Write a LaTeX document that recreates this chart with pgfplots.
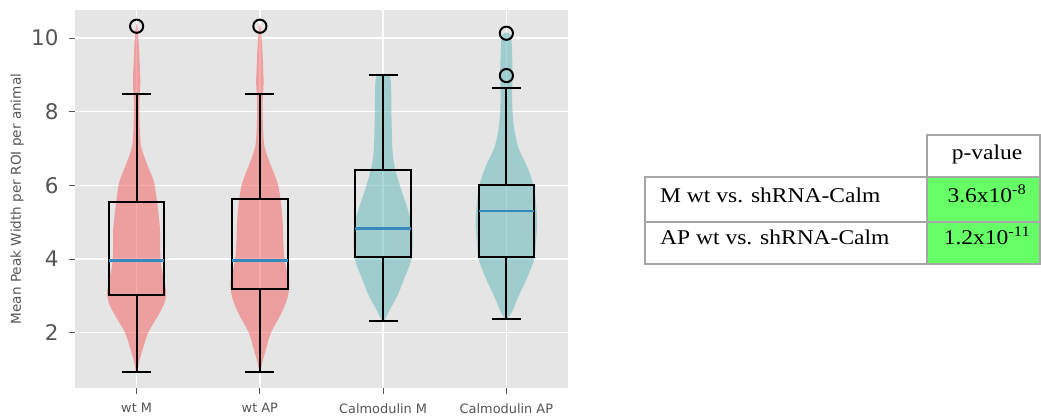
\documentclass[border=0pt]{standalone}
\usepackage{pgfplots}
\pgfplotsset{compat=1.18}
\usepgfplotslibrary{statistics}
\usepackage{fontspec}
\setmainfont{DejaVu Sans}
\newfontfamily\tabfont[FakeStretch=1.12]{Liberation Serif}
\definecolor{bggray}{HTML}{E5E5E5}
\definecolor{pinkv}{RGB}{245,91,91}
\definecolor{tealv}{RGB}{91,181,181}
\definecolor{medblue}{HTML}{348ABD}
\definecolor{labgray}{HTML}{555555}
\definecolor{tabborder}{HTML}{A6A6A6}
\definecolor{tabgreen}{HTML}{66FF66}
\begin{document}
\begin{tikzpicture}[x=1pt,y=1pt]
\path[use as bounding box] (0,0) rectangle (1041,416);
\begin{axis}[
  at={(75pt,28pt)}, anchor=south west,
  scale only axis, width=493pt, height=378pt,
  xmin=0.5, xmax=4.5, ymin=0.5, ymax=10.76,
  axis background/.style={fill=bggray},
  axis line style={draw=none},
  grid=major, grid style={white, line width=1.4pt},
  xtick={1,2,3,4},
  xticklabels={wt M, wt AP, Calmodulin M, Calmodulin AP},
  ytick={2,4,6,8,10},
  xtick pos=lower, ytick pos=left,
  tick align=outside, major tick length=6pt,
  tick style={labgray, line width=0.9pt},
  /pgf/number format/assume math mode=true,
  yticklabel style={font=\fontsize{21.5}{21.5}\selectfont, text=labgray, xshift=-7pt},
  xticklabel style={font=\fontsize{12.9}{12.9}\selectfont, text=labgray, yshift=-6pt},
  ylabel={Mean Peak Width per ROI per animal},
  every axis y label/.style={at={(axis description cs:-0.1176,0.5)}, rotate=90, anchor=center,
    font=\fontsize{13.6}{13.6}\selectfont, text=labgray},
  clip=false,
]
% violins
\addplot[fill=pinkv, fill opacity=0.5, draw=none, smooth] coordinates {
(1.005,0.93) (1.02,1.2) (1.045,1.5) (1.094,2.0) (1.18,2.5) (1.225,2.8) (1.24,3.1) (1.225,3.4) (1.2,3.8) (1.19,4.3) (1.19,4.8) (1.175,5.3) (1.16,5.7) (1.14,6.1) (1.094,6.5) (1.06,6.8) (1.035,7.1) (1.025,7.6) (1.022,8.2) (1.03,8.8) (1.025,9.3) (1.018,9.8) (1.005,10.32)
(0.995,10.32) (0.982,9.8) (0.975,9.3) (0.97,8.8) (0.978,8.2) (0.975,7.6) (0.965,7.1) (0.94,6.8) (0.906,6.5) (0.86,6.1) (0.84,5.7) (0.825,5.3) (0.81,4.8) (0.81,4.3) (0.8,3.8) (0.775,3.4) (0.76,3.1) (0.775,2.8) (0.82,2.5) (0.906,2.0) (0.955,1.5) (0.98,1.2) (0.995,0.93)
};
\addplot[fill=pinkv, fill opacity=0.5, draw=none, smooth] coordinates {
(2.005,0.93) (2.02,1.2) (2.045,1.5) (2.09,2.0) (2.17,2.5) (2.22,2.9) (2.24,3.3) (2.225,3.6) (2.2,4.0) (2.19,4.5) (2.185,5.0) (2.175,5.4) (2.16,5.8) (2.14,6.1) (2.094,6.5) (2.06,6.8) (2.035,7.1) (2.025,7.6) (2.022,8.2) (2.03,8.8) (2.025,9.3) (2.018,9.8) (2.005,10.32)
(1.995,10.32) (1.982,9.8) (1.975,9.3) (1.97,8.8) (1.978,8.2) (1.975,7.6) (1.965,7.1) (1.94,6.8) (1.906,6.5) (1.86,6.1) (1.84,5.8) (1.825,5.4) (1.815,5.0) (1.81,4.5) (1.8,4.0) (1.775,3.6) (1.76,3.3) (1.78,2.9) (1.83,2.5) (1.91,2.0) (1.955,1.5) (1.98,1.2) (1.995,0.93)
};
\addplot[fill=tealv, fill opacity=0.5, draw=none, smooth] coordinates {
(3.01,2.31) (3.05,2.6) (3.115,3.0) (3.175,3.5) (3.23,4.0) (3.24,4.6) (3.23,5.0) (3.185,5.5) (3.135,6.0) (3.094,6.5) (3.075,7.0) (3.067,8.0) (3.065,8.6) (3.05,8.99)
(2.95,8.99) (2.935,8.6) (2.933,8.0) (2.925,7.0) (2.906,6.5) (2.865,6.0) (2.815,5.5) (2.77,5.0) (2.76,4.6) (2.77,4.0) (2.825,3.5) (2.885,3.0) (2.95,2.6) (2.99,2.31)
};
\addplot[fill=tealv, fill opacity=0.5, draw=none, smooth] coordinates {
(4.01,2.37) (4.05,2.6) (4.10,3.0) (4.17,3.5) (4.225,4.0) (4.24,4.5) (4.25,5.0) (4.24,5.5) (4.22,6.0) (4.17,6.5) (4.10,7.0) (4.065,7.5) (4.05,8.0) (4.047,8.5) (4.05,9.0) (4.047,9.5) (4.04,10.0) (4.02,10.13)
(3.98,10.13) (3.96,10.0) (3.953,9.5) (3.95,9.0) (3.953,8.5) (3.95,8.0) (3.935,7.5) (3.90,7.0) (3.83,6.5) (3.78,6.0) (3.76,5.5) (3.75,5.0) (3.76,4.5) (3.775,4.0) (3.83,3.5) (3.90,3.0) (3.95,2.6) (3.99,2.37)
};
% boxplots
\pgfplotsset{myboxes/.style={black, line width=2pt, mark=o, mark size=6.6pt,
  mark options={draw=black, fill=none, line width=2pt},
  boxplot/draw direction=y,
  boxplot/box extend=0.452, boxplot/whisker extend=0.234,
  boxplot/every median/.style={draw=medblue, line width=2.5pt}}}
\addplot[myboxes, boxplot prepared={draw position=1, lower whisker=0.93, lower quartile=3.03, median=3.96, upper quartile=5.56, upper whisker=8.49}] coordinates {(0,10.32)};
\addplot[myboxes, boxplot prepared={draw position=2, lower whisker=0.93, lower quartile=3.19, median=3.96, upper quartile=5.64, upper whisker=8.49}] coordinates {(0,10.32)};
\addplot[myboxes, boxplot prepared={draw position=3, lower whisker=2.31, lower quartile=4.05, median=4.83, upper quartile=6.41, upper whisker=8.99}] coordinates {};
\addplot[myboxes, boxplot prepared={draw position=4, lower whisker=2.37, lower quartile=4.05, median=5.31, upper quartile=6.01, upper whisker=8.64}] coordinates {(0,8.98) (0,10.13)};
\end{axis}
% p-value table
\fill[tabgreen] (927,152) rectangle (1040,239);
\draw[tabborder, line width=1.5pt] (927,239) -- (927,281) -- (1040,281) -- (1040,152);
\draw[tabborder, line width=1.5pt] (645,152) rectangle (1040,239);
\draw[tabborder, line width=1.5pt] (645,194) -- (1040,194);
\draw[tabborder, line width=1.5pt] (927,152) -- (927,239);
\node[anchor=base, inner sep=0pt, font=\tabfont\fontsize{21}{21}\selectfont] at (987,257) {p-value};
\node[anchor=base west, inner sep=0pt, font=\tabfont\fontsize{21}{21}\selectfont] at (660,214) {M wt vs. shRNA-Calm};
\node[anchor=base west, inner sep=0pt, font=\tabfont\fontsize{21}{21}\selectfont] at (660,172) {AP wt vs. shRNA-Calm};
\node[anchor=base, inner sep=0pt, font=\tabfont\fontsize{21}{21}\selectfont] at (987,214) {3.6x10\textsuperscript{-8}};
\node[anchor=base, inner sep=0pt, font=\tabfont\fontsize{21}{21}\selectfont] at (987,172) {1.2x10\textsuperscript{-11}};
\end{tikzpicture}
\end{document}
